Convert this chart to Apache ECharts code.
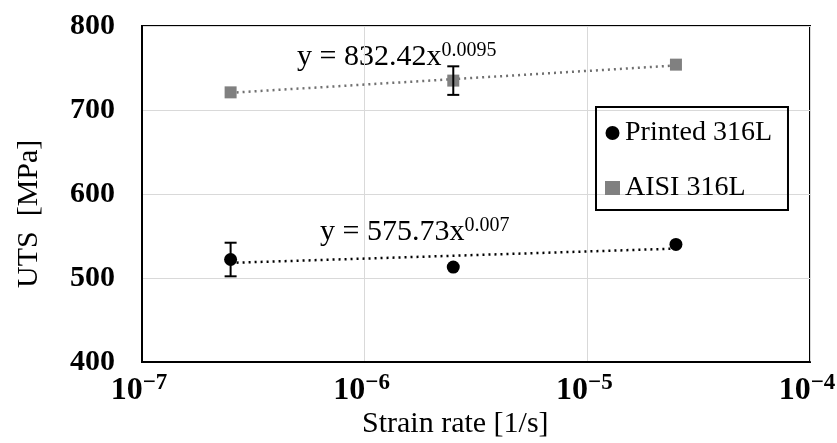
<!DOCTYPE html>
<html>
<head>
<meta charset="utf-8">
<script src="https://cdn.jsdelivr.net/npm/echarts@6/dist/echarts.min.js"></script>
<style>
  html, body { margin: 0; padding: 0; background: #fff; }
  #chart { width: 837px; height: 443px; }
</style>
</head>
<body>
<div id="chart"></div>
<script>
// strain rates (1/s)
const strainRates = [2.5e-7, 2.5e-6, 2.5e-5];
// UTS values (MPa)
const printedUTS = [522, 513, 540];
const printedErr = [20, 0, 0];
const aisiUTS = [721, 735, 754];
const aisiErr = [0, 17, 0];
// power-law trend lines, end points
const printedTrend = [518, 535];
const aisiTrend = [720.5, 753];
const yTicks = [400, 500, 600, 700, 800];

const FONT = 'Liberation Serif';

function pairs(xs, ys) { return xs.map((x, i) => [x, ys[i]]); }
function errData(xs, ys, es) {
  return xs.map((x, i) => [x, ys[i] - es[i], ys[i] + es[i]]).filter((d, i) => es[i] > 0);
}
// vertical error bar with caps
function errorBars(params, api) {
  const lo = api.coord([api.value(0), api.value(1)]);
  const hi = api.coord([api.value(0), api.value(2)]);
  const w = 6;
  const st = { stroke: '#000', lineWidth: 2 };
  return {
    type: 'group',
    children: [
      { type: 'line', shape: { x1: lo[0], y1: lo[1], x2: hi[0], y2: hi[1] }, style: st },
      { type: 'line', shape: { x1: lo[0] - w, y1: lo[1], x2: lo[0] + w, y2: lo[1] }, style: st },
      { type: 'line', shape: { x1: hi[0] - w, y1: hi[1], x2: hi[0] + w, y2: hi[1] }, style: st }
    ]
  };
}
const eqRich = {
  a: { fontFamily: FONT, fontSize: 30, fill: '#000', lineHeight: 32 },
  s: { fontFamily: FONT, fontSize: 20, fill: '#000', verticalAlign: 'top', lineHeight: 32, padding: [0, 0, 16, 0] }
};

const chart = echarts.init(document.getElementById('chart'));
chart.setOption({
  animation: false,
  textStyle: { fontFamily: FONT },
  grid: {
    left: 142, right: 27, top: 26, bottom: 81,
    outerBoundsMode: 'none',
    show: true, borderColor: '#000', borderWidth: 2
  },
  legend: {
    orient: 'vertical',
    left: 596, top: 107,
    borderColor: '#000', borderWidth: 2,
    padding: [12, 16, 8, 9],
    itemGap: 27,
    itemWidth: 15, itemHeight: 14,
    textStyle: { fontFamily: FONT, fontSize: 28, color: '#000' },
    data: ['Printed 316L', 'AISI 316L']
  },
  xAxis: {
    type: 'log', logBase: 10, min: 1e-7, max: 1e-4,
    axisLine: { lineStyle: { color: '#000', width: 2 } },
    axisTick: { show: false },
    minorTick: { show: false },
    splitLine: { show: true, lineStyle: { color: '#d9d9d9', width: 1 } },
    axisLabel: {
      margin: 10,
      padding: [0, 6, 0, 0],
      formatter: v => '{b|10}{s|−' + Math.round(-Math.log10(v)) + '}',
      rich: {
        b: { fontFamily: FONT, fontSize: 32, fontWeight: 'bold', color: '#000' },
        s: { fontFamily: FONT, fontSize: 23, fontWeight: 'bold', color: '#000', verticalAlign: 'top', padding: [0, 0, 14, 0] }
      }
    }
  },
  yAxis: {
    type: 'value', min: yTicks[0], max: yTicks[yTicks.length - 1], interval: 100,
    axisLine: { show: true, lineStyle: { color: '#000', width: 2 } },
    axisTick: { show: false },
    splitLine: { lineStyle: { color: '#d9d9d9', width: 1 } },
    axisLabel: { margin: 27, fontFamily: FONT, fontSize: 30, fontWeight: 'bold', color: '#000' }
  },
  graphic: [
    {
      type: 'text', left: 297, top: 41,
      style: { text: '{a|y = 832.42x}{s|0.0095}', rich: eqRich }
    },
    {
      type: 'text', left: 320, top: 216,
      style: { text: '{a|y = 575.73x}{s|0.007}', rich: eqRich }
    },
    {
      type: 'text', left: 362, top: 409,
      style: { text: 'Strain rate [1/s]', fontFamily: FONT, fontSize: 30, fill: '#000' }
    },
    {
      type: 'text', x: 14, y: 288, rotation: Math.PI / 2,
      style: { text: 'UTS  [MPa]', fontFamily: FONT, fontSize: 30, fill: '#000' }
    }
  ],
  series: [
    {
      name: 'Printed trend', type: 'line', symbol: 'none', silent: true,
      data: pairs([strainRates[0], strainRates[2]], printedTrend),
      lineStyle: { color: '#000', width: 2.5, type: [2, 4] }, z: 2
    },
    {
      name: 'AISI trend', type: 'line', symbol: 'none', silent: true,
      data: pairs([strainRates[0], strainRates[2]], aisiTrend),
      lineStyle: { color: '#707070', width: 2.5, type: [2, 4] }, z: 2
    },
    {
      name: 'Printed 316L', type: 'scatter', symbol: 'circle', symbolSize: 13,
      itemStyle: { color: '#000', opacity: 1 }, data: pairs(strainRates, printedUTS), z: 4
    },
    {
      name: 'AISI 316L', type: 'scatter', symbol: 'rect', symbolSize: 12,
      itemStyle: { color: '#808080', opacity: 1 }, data: pairs(strainRates, aisiUTS), z: 4
    },
    {
      type: 'custom', renderItem: errorBars, z: 5, silent: true,
      data: errData(strainRates, printedUTS, printedErr)
    },
    {
      type: 'custom', renderItem: errorBars, z: 5, silent: true,
      data: errData(strainRates, aisiUTS, aisiErr)
    }
  ]
});
</script>
</body>
</html>
